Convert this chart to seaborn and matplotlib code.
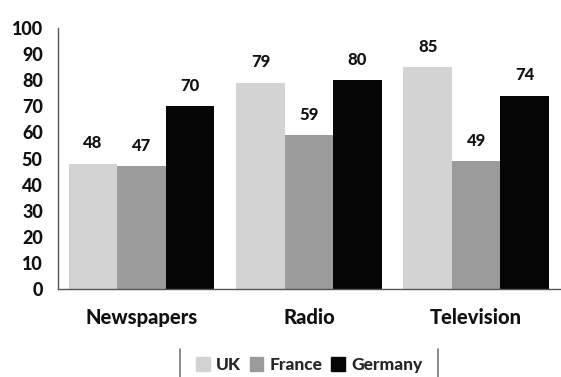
import matplotlib
matplotlib.use("Agg")
import matplotlib.pyplot as plt
import seaborn as sns
import pandas as pd
from matplotlib.lines import Line2D

categories = ["Newspapers", "Radio", "Television"]
countries = ["UK", "France", "Germany"]
uk = [48, 79, 85]
france = [47, 59, 49]
germany = [70, 80, 74]
y_ticks = [0, 10, 20, 30, 40, 50, 60, 70, 80, 90, 100]

rows = []
for c, vals in zip(countries, [uk, france, germany]):
    for cat, v in zip(categories, vals):
        rows.append({"Medium": cat, "Country": c, "Value": v})
df = pd.DataFrame(rows)

sns.set_style("white")
plt.rcParams["font.family"] = ["Lato", "DejaVu Sans"]
W = 900

fig = plt.figure(figsize=(5.61, 3.77), dpi=100)
ax = fig.add_axes([0.1034, 0.2334, 0.8946, 0.6923])

palette = {"UK": "#d3d3d3", "France": "#9b9b9b", "Germany": "#060606"}
sns.barplot(data=df, x="Medium", y="Value", hue="Country", hue_order=countries,
            order=categories, palette=palette, width=0.87, saturation=1,
            ax=ax, legend=False, linewidth=0)

for cont in ax.containers:
    ax.bar_label(cont, padding=9, fontsize=12, fontweight=W, color="#111111")

ax.set_ylim(0, 100)
ax.set_xlim(-0.5, 2.5)
ax.set_yticks(y_ticks)
ax.set_yticklabels([str(t) for t in y_ticks], fontsize=13, fontweight=W, color="#111111")
ax.set_xticks([-0.5, 0.5, 1.5, 2.5], minor=False)
ax.set_xticklabels([])
ax.set_xticks([0, 1, 2], minor=True)
ax.set_xticklabels(categories, minor=True, fontsize=14.5, fontweight=W, color="#111111")
ax.tick_params(axis="x", which="minor", length=0, pad=14)
ax.tick_params(axis="x", which="major", direction="out", length=4, width=1, color="#555555")
ax.tick_params(axis="y", direction="out", length=5, width=1, color="#555555", pad=6)
ax.set_xlabel("")
ax.set_ylabel("")
for s in ["top", "right"]:
    ax.spines[s].set_visible(False)
for s in ["left", "bottom"]:
    ax.spines[s].set_color("#555555")
    ax.spines[s].set_linewidth(1)

handles = [plt.Rectangle((0, 0), 1, 1, color=palette[c]) for c in countries]
leg = fig.legend(handles, countries, loc="center", bbox_to_anchor=(0.551, 0.032),
                 ncol=3, frameon=False, handlelength=0.8, handleheight=0.8,
                 handletextpad=0.35, columnspacing=0.5,
                 prop={"weight": W, "size": 12.5})
fig.add_artist(Line2D([0.321, 0.321], [0.0, 0.075], transform=fig.transFigure, color="#777777", lw=1.2))
fig.add_artist(Line2D([0.781, 0.781], [0.0, 0.075], transform=fig.transFigure, color="#777777", lw=1.2))

fig.savefig("out.png", dpi=100)
